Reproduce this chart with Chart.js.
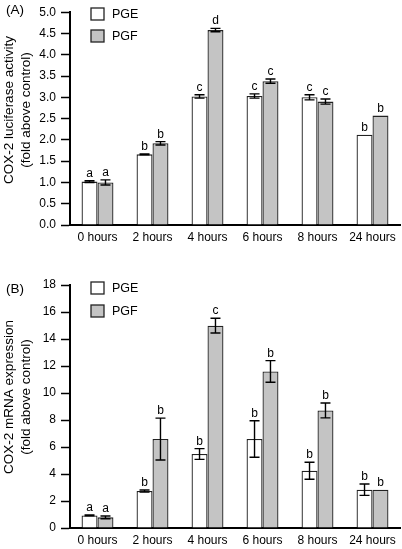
<!DOCTYPE html>
<html>
<head>
<meta charset="utf-8">
<script src="https://cdn.jsdelivr.net/npm/chart.js@4/dist/chart.umd.min.js"></script>
<style>
  html, body { margin:0; padding:0; background:#fff; }
  body { width:402px; height:549px; position:relative; overflow:hidden; }
  canvas { position:absolute; left:0; }
  #chartA { top:0; }
  #chartB { top:270px; }
</style>
</head>
<body>
<canvas id="chartA" width="402" height="270"></canvas>
<canvas id="chartB" width="402" height="279"></canvas>
<script>
const categories = ['0 hours', '2 hours', '4 hours', '6 hours', '8 hours', '24 hours'];
const seriesNames = ['PGE', 'PGF'];

// panel A: luciferase activity
const lucPGE = [1.02, 1.66, 3.02, 3.03, 3.00, 2.12];
const lucPGEerr = [0.02, 0.01, 0.04, 0.05, 0.06, 0];
const lucPGF = [1.00, 1.92, 4.58, 3.38, 2.90, 2.57];
const lucPGFerr = [0.06, 0.04, 0.04, 0.05, 0.06, 0];
const lucPGEsig = ['a', 'b', 'c', 'c', 'c', 'b'];
const lucPGFsig = ['a', 'b', 'd', 'c', 'c', 'b'];
const lucTicks = [0, 0.5, 1.0, 1.5, 2.0, 2.5, 3.0, 3.5, 4.0, 4.5, 5.0];

// panel B: mRNA expression
const mrnaPGE = [0.93, 2.74, 5.48, 6.59, 4.24, 2.84];
const mrnaPGEerr = [0.03, 0.08, 0.40, 1.35, 0.63, 0.42];
const mrnaPGF = [0.79, 6.59, 14.99, 11.6, 8.71, 2.84];
const mrnaPGFerr = [0.10, 1.55, 0.55, 0.80, 0.55, 0];
const mrnaPGEsig = ['a', 'b', 'b', 'b', 'b', 'b'];
const mrnaPGFsig = ['a', 'b', 'c', 'b', 'b', 'b'];
const mrnaTicks = [0, 2, 4, 6, 8, 10, 12, 14, 16, 18];

const FONT = "'Liberation Sans', Arial, Helvetica, sans-serif";
const fills = ['#ffffff', '#c4c4c4'];

// error bars, letters, legend, y title, panel label
const extras = {
  id: 'extras',
  afterDatasetsDraw(chart, args, opts) {
    const ctx = chart.ctx;
    const y = chart.scales.y;
    ctx.save();
    chart.data.datasets.forEach((ds, di) => {
      const meta = chart.getDatasetMeta(di);
      meta.data.forEach((bar, i) => {
        const v = ds.data[i];
        const e = ds.err[i];
        let top = y.getPixelForValue(v);
        if (e > 0) {
          const hi = y.getPixelForValue(v + e);
          const lo = y.getPixelForValue(v - e);
          ctx.strokeStyle = '#000';
          ctx.lineWidth = 1.4;
          ctx.beginPath();
          ctx.moveTo(bar.x, hi); ctx.lineTo(bar.x, lo);
          ctx.moveTo(bar.x - 5, hi); ctx.lineTo(bar.x + 5, hi);
          ctx.moveTo(bar.x - 5, lo); ctx.lineTo(bar.x + 5, lo);
          ctx.stroke();
          top = Math.min(top, hi);
        }
        ctx.fillStyle = '#000';
        ctx.font = '12px ' + FONT;
        ctx.textAlign = 'center';
        ctx.textBaseline = 'alphabetic';
        ctx.fillText(ds.sig[i], bar.x, top - 4);
      });
    });
    ctx.restore();
  },
  afterDraw(chart, args, opts) {
    const ctx = chart.ctx;
    ctx.save();
    // legend
    chart.data.datasets.forEach((ds, di) => {
      const by = opts.legendY[di];
      ctx.fillStyle = ds.backgroundColor;
      ctx.fillRect(91, by, 13, 12);
      ctx.strokeStyle = '#222';
      ctx.lineWidth = 1.3;
      ctx.strokeRect(91, by, 13, 12);
      ctx.fillStyle = '#000';
      ctx.font = '12.5px ' + FONT;
      ctx.textAlign = 'left';
      ctx.textBaseline = 'middle';
      ctx.fillText(ds.label, 112, by + 6.5);
    });
    // panel label
    ctx.font = '13.5px ' + FONT;
    ctx.textAlign = 'left';
    ctx.textBaseline = 'middle';
    ctx.fillText(opts.panel, 6, opts.panelY);
    // y title
    ctx.translate(0, opts.titleY);
    ctx.rotate(-Math.PI / 2);
    ctx.textAlign = 'center';
    ctx.fillText(opts.title[0], 0, 9);
    ctx.fillText(opts.title[1], 0, 26);
    ctx.restore();
  }
};

function makeChart(id, pge, pgeErr, pgeSig, pgf, pgfErr, pgfSig, ticks, fmt, padTop, xHeight, extraOpts) {
  const tickMax = ticks[ticks.length - 1];
  const step = ticks[1] - ticks[0];
  return new Chart(document.getElementById(id), {
    type: 'bar',
    data: {
      labels: categories,
      datasets: [
        { label: seriesNames[0], data: pge, err: pgeErr, sig: pgeSig, backgroundColor: fills[0] },
        { label: seriesNames[1], data: pgf, err: pgfErr, sig: pgfSig, backgroundColor: fills[1] }
      ]
    },
    options: {
      responsive: false,
      animation: false,
      layout: { padding: { top: padTop, right: 2, left: 0, bottom: 0 } },
      datasets: {
        bar: {
          borderColor: '#222',
          borderWidth: 1.3,
          categoryPercentage: 0.58,
          barPercentage: 1.0
        }
      },
      plugins: {
        legend: { display: false },
        tooltip: { enabled: false },
        extras: extraOpts
      },
      scales: {
        x: {
          grid: { display: true, drawOnChartArea: false, drawTicks: false },
          border: { color: '#000', width: 2 },
          ticks: { color: '#000', font: { family: FONT, size: 12 }, padding: 5, maxRotation: 0 },
          afterFit(s) { s.height = xHeight; }
        },
        y: {
          min: 0,
          max: tickMax,
          grid: { drawOnChartArea: false, drawTicks: true, tickLength: 9, tickWidth: 1.5, tickColor: '#000' },
          border: { color: '#000', width: 2 },
          ticks: {
            stepSize: step,
            color: '#000',
            padding: 5,
            font: { family: FONT, size: 12 },
            callback: v => fmt(v)
          },
          afterFit(s) { s.width = 70; }
        }
      }
    },
    plugins: [extras]
  });
}

makeChart('chartA', lucPGE, lucPGEerr, lucPGEsig, lucPGF, lucPGFerr, lucPGFsig,
  lucTicks, v => v.toFixed(1), 10, 45,
  { legendY: [8, 30], panel: '(A)', panelY: 10, titleY: 110,
    title: ['COX-2 luciferase activity', '(fold above control)'] });

makeChart('chartB', mrnaPGE, mrnaPGEerr, mrnaPGEsig, mrnaPGF, mrnaPGFerr, mrnaPGFsig,
  mrnaTicks, v => String(v), 15, 21,
  { legendY: [12, 35], panel: '(B)', panelY: 19, titleY: 127,
    title: ['COX-2 mRNA expression', '(fold above control)'] });
</script>
</body>
</html>
